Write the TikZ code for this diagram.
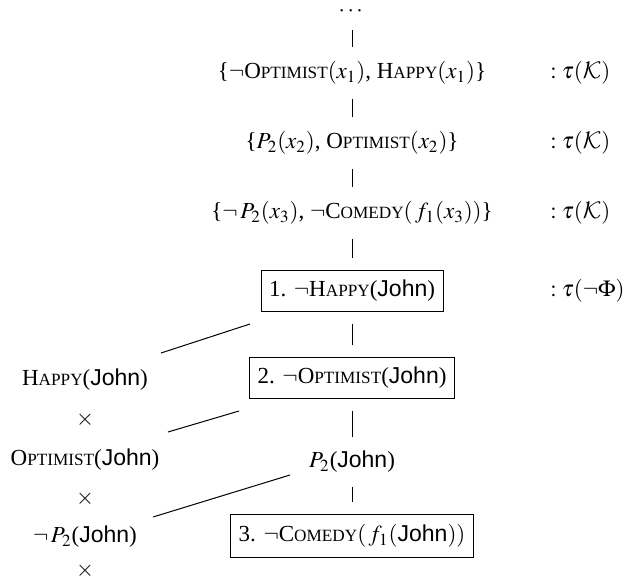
\documentclass[tikz,border=0pt]{standalone}
\usepackage{amsmath}
\usepackage{mathptmx}
\DeclareMathAlphabet{\mathcal}{OMS}{cmsy}{m}{n}
\usepackage{fontspec}
\setmainfont{Liberation Serif}
\setsansfont{Liberation Sans}
\usepackage{tikz}
\usetikzlibrary{positioning}

% predicate names in small capitals
\newcommand{\pc}[2]{#1{\fontsize{8.6}{10}\selectfont #2}}
\newcommand{\jn}{(\textsf{John})}

\begin{document}
\begin{tikzpicture}[
    x=0.5pt, y=-0.5pt,
    term/.style={
        inner sep=1pt,
        font=\fontsize{11.5}{14}\selectfont
    },
    goal/.style={
        term,
        draw,
        inner xsep=4pt,
        inner ysep=5pt,
        line width=0.5pt
    },
    bar/.style={line width=0.5pt, shorten <=6pt, shorten >=6pt},
    link/.style={line width=0.5pt}
]
\useasboundingbox (0,0) rectangle (624,582);

% centre column
\node[term] (dots) at (352,11) {$\cdots$};
\node[term] (kb1) at (352,73) {\{$\neg$\pc{O}{PTIMIST}$(x_1)$, \pc{H}{APPY}$(x_1)$\}};
\node[term] (kb2) at (352,143) {\{$P_2(x_2)$, \pc{O}{PTIMIST}$(x_2)$\}};
\node[term] (kb3) at (352,213) {\{$\neg\,P_2(x_3)$, $\neg$\pc{C}{OMEDY}$(\,f_1(x_3))$\}};
\node[goal] (goal1) at (352,291) {1. $\neg$\pc{H}{APPY}\jn};
\node[goal] (goal2) at (352,378) {2. $\neg$\pc{O}{PTIMIST}\jn};
\node[term] (p2) at (352,462) {$P_2$\jn};
\node[goal] (goal3) at (352,536) {3. $\neg$\pc{C}{OMEDY}$(\,f_1(\textsf{John}))$};

% labels
\node[term, anchor=west] (lab1) at (548,73) {$:\tau(\mathcal{K})$};
\node[term, anchor=west] (lab2) at (548,143) {$:\tau(\mathcal{K})$};
\node[term, anchor=west] (lab3) at (548,213) {$:\tau(\mathcal{K})$};
\node[term, anchor=west] (lab4) at (548,291) {$:\tau(\neg\Phi)$};

% closed branches
\node[term] (happy) at (85,380) {\pc{H}{APPY}\jn};
\node[term] (xa) at (85,420) {$\times$};
\node[term] (optimist) at (85,460) {\pc{O}{PTIMIST}\jn};
\node[term] (xb) at (85,499) {$\times$};
\node[term] (negp) at (85,537) {$\neg\,P_2$\jn};
\node[term] (xc) at (85,571) {$\times$};

\draw[bar] (dots) -- (kb1);
\draw[bar] (kb1) -- (kb2);
\draw[bar] (kb2) -- (kb3);
\draw[bar] (kb3) -- (goal1);
\draw[bar] (goal1) -- (goal2);
\draw[bar] (goal2) -- (p2);
\draw[bar] (p2) -- (goal3);

\draw[link] ([shift={(76,-27)}]happy.center) -- ([shift={(-102,33)}]goal1.center);
\draw[link] ([shift={(83,-28)}]optimist.center) -- ([shift={(-113,33)}]goal2.center);
\draw[link] ([shift={(68,-20)}]negp.center) -- ([shift={(-62,13)}]p2.center);
\end{tikzpicture}
\end{document}
